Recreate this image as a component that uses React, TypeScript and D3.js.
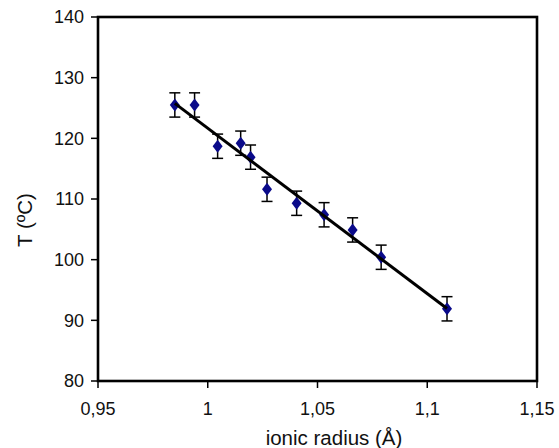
import React from "react";
import * as d3 from "d3";

const radius = [0.985, 0.994, 1.0045, 1.015, 1.0195, 1.027, 1.0405, 1.053, 1.066, 1.079, 1.109];
const temperature = [125.5, 125.5, 118.7, 119.2, 116.9, 111.6, 109.3, 107.4, 104.9, 100.4, 91.9];
const errors = [2, 2, 2, 2, 2, 2, 2, 2, 2, 2, 2];
const xTicks = [0.95, 1, 1.05, 1.1, 1.15];
const yTicks = [80, 90, 100, 110, 120, 130, 140];

const W = 559, H = 448;
const M = { left: 98, right: 537, top: 17, bottom: 381 };

export default function App() {
  const x = d3.scaleLinear().domain([0.95, 1.15]).range([M.left, M.right]);
  const y = d3.scaleLinear().domain([80, 140]).range([M.bottom, M.top]);
  const fmt = (v: number) => String(v).replace(".", ",");

  const n = radius.length;
  const mx = d3.mean(radius)!;
  const my = d3.mean(temperature)!;
  let sxy = 0, sxx = 0;
  for (let i = 0; i < n; i++) {
    sxy += (radius[i] - mx) * (temperature[i] - my);
    sxx += (radius[i] - mx) ** 2;
  }
  const slope = sxy / sxx;
  const icpt = my - slope * mx;
  const x0 = d3.min(radius)!, x1 = d3.max(radius)!;
  const line = d3.line<number>().x(d => x(d)).y(d => y(icpt + slope * d));

  const font = "'Liberation Sans', Arial, sans-serif";
  const diamond = d3.symbol().type(d3.symbolDiamond).size(60)();

  return (
    <svg width={W} height={H} style={{ position: "fixed", left: 0, top: 0 }} fontFamily={font}>
      <rect x={0} y={0} width={W} height={H} fill="#fff" />
      <rect x={M.left} y={M.top} width={M.right - M.left} height={M.bottom - M.top} fill="none" stroke="#000" strokeWidth={2.6} />
      {yTicks.map(t => (
        <g key={"y" + t}>
          <line x1={M.left - 7} x2={M.left} y1={y(t)} y2={y(t)} stroke="#000" strokeWidth={1.5} />
          <text x={84} y={y(t)} dy="0.36em" textAnchor="end" fontSize={18} fill="#111">{t}</text>
        </g>
      ))}
      {xTicks.map(t => (
        <g key={"x" + t}>
          <line x1={x(t)} x2={x(t)} y1={M.bottom} y2={M.bottom + 7} stroke="#000" strokeWidth={1.5} />
          <text x={x(t)} y={415} textAnchor="middle" fontSize={18} fill="#111">{fmt(t)}</text>
        </g>
      ))}
      <text x={334} y={445} textAnchor="middle" fontSize={20.5} fill="#111">ionic radius (Å)</text>
      <text transform={`translate(32,220) rotate(-90)`} textAnchor="middle" fontSize={20.5} fill="#111">T (ºC)</text>
      {radius.map((r, i) => {
        const cx = x(r);
        const yt = y(temperature[i] + errors[i]);
        const yb = y(temperature[i] - errors[i]);
        return (
          <g key={"e" + i} stroke="#000" strokeWidth={1.5}>
            <line x1={cx} x2={cx} y1={yt} y2={yb} />
            <line x1={cx - 5.5} x2={cx + 5.5} y1={yt} y2={yt} />
            <line x1={cx - 5.5} x2={cx + 5.5} y1={yb} y2={yb} />
          </g>
        );
      })}
      {radius.map((r, i) => (
        <path key={"p" + i} d={diamond!} transform={`translate(${x(r)},${y(temperature[i])}) scale(1.2,0.9)`} fill="#0a0a8a" />
      ))}
      <path d={line([x0, x1])!} stroke="#000" strokeWidth={3} fill="none" />
    </svg>
  );
}
